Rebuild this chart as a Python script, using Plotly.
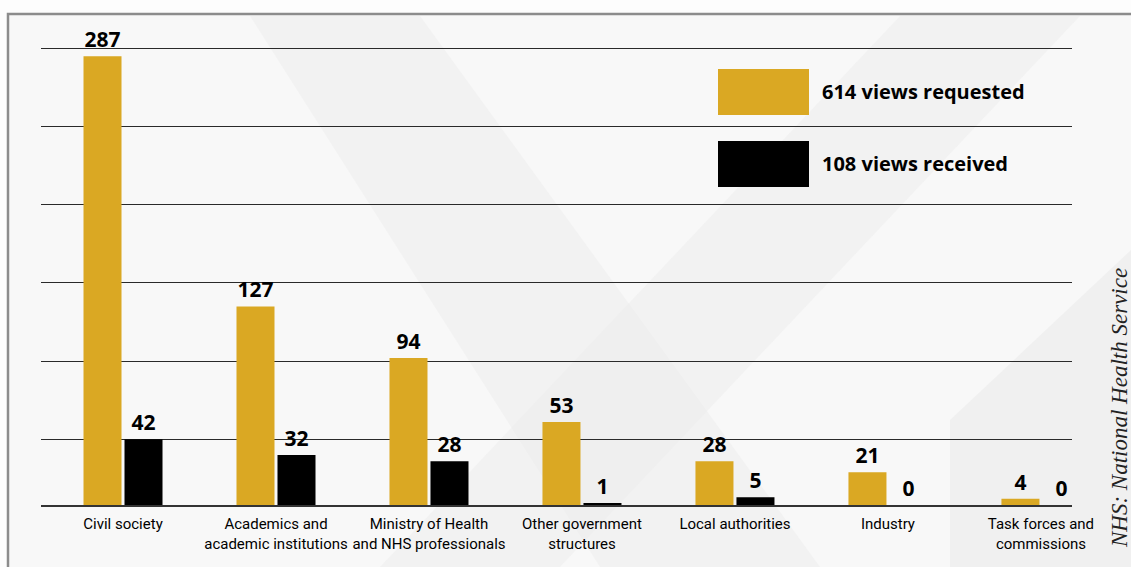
import plotly.graph_objects as go

categories = ["Civil society", "Academics and<br>academic institutions",
              "Ministry of Health<br>and NHS professionals", "Other government<br>structures",
              "Local authorities", "Industry", "Task forces and<br>commissions"]
requested = [287, 127, 94, 53, 28, 21, 4]
received = [42, 32, 28, 1, 5, 0, 0]
series_names = ["614 views requested", "108 views received"]
grid_vals = [42, 92, 142, 192, 242, 292]
footnote = "NHS: National Health Service"

GOLD = "#DAA823"
BLACK = "#000000"

W, H = 1131, 567
L, R, T, B = 41, 59, 14, 62
PW, PH = W - L - R, H - T - B

def px(x):
    return (x - L) / PW

def py(y):
    return (H - B - y) / PH

num_font = dict(family="Open Sans, DejaVu Sans, sans-serif", size=21, color="#000")

fig = go.Figure()
fig.add_trace(go.Bar(x=list(range(len(categories))), y=requested, name=series_names[0],
                     marker=dict(color=GOLD, line=dict(width=0)),
                     text=[f"<b>{v}</b>" for v in requested], textposition="outside",
                     textfont=num_font, cliponaxis=False, showlegend=False))
fig.add_trace(go.Bar(x=list(range(len(categories))), y=received, name=series_names[1],
                     marker=dict(color=BLACK, line=dict(width=0)),
                     text=[f"<b>{v}</b>" for v in received], textposition="outside",
                     textfont=num_font, cliponaxis=False, showlegend=False))

shapes = []
# background panel with frame
shapes.append(dict(type="rect", xref="paper", yref="paper", layer="below",
                   x0=px(8), x1=px(1140), y0=py(580), y1=py(14),
                   fillcolor="#f8f8f8", line=dict(color="#8c8c8c", width=2.5)))
# faint decorative bands
shapes.append(dict(type="path", xref="paper", yref="paper", layer="below",
                   path=f"M {px(250)} {py(16)} L {px(420)} {py(16)} L {px(820)} {py(567)} L {px(600)} {py(567)} Z",
                   fillcolor="#ececec", line=dict(width=0), opacity=0.45))
shapes.append(dict(type="path", xref="paper", yref="paper", layer="below",
                   path=f"M {px(900)} {py(16)} L {px(1080)} {py(16)} L {px(560)} {py(567)} L {px(380)} {py(567)} Z",
                   fillcolor="#ececec", line=dict(width=0), opacity=0.45))
shapes.append(dict(type="path", xref="paper", yref="paper", layer="below",
                   path=f"M {px(950)} {py(567)} L {px(950)} {py(420)} L {px(1131)} {py(250)} L {px(1131)} {py(567)} Z",
                   fillcolor="#e6e6e6", line=dict(width=0), opacity=0.45))

# legend swatches
sw_x0, sw_x1 = px(718), px(809)
shapes.append(dict(type="rect", xref="paper", yref="paper", x0=sw_x0, x1=sw_x1,
                   y0=py(115), y1=py(69), fillcolor=GOLD, line=dict(width=0)))
shapes.append(dict(type="rect", xref="paper", yref="paper", x0=sw_x0, x1=sw_x1,
                   y0=py(187), y1=py(141), fillcolor=BLACK, line=dict(width=0)))

annotations = [
    dict(xref="paper", yref="paper", x=px(820), y=py(91), text=f"<b>{series_names[0]}</b>",
         showarrow=False, xanchor="left", yanchor="middle",
         font=dict(family="Open Sans, DejaVu Sans, sans-serif", size=20, color="#000")),
    dict(xref="paper", yref="paper", x=px(820), y=py(163), text=f"<b>{series_names[1]}</b>",
         showarrow=False, xanchor="left", yanchor="middle",
         font=dict(family="Open Sans, DejaVu Sans, sans-serif", size=20, color="#000")),
    dict(xref="paper", yref="paper", x=px(1119), y=py(408), text=f"<i>{footnote}</i>",
         showarrow=False, textangle=-90, xanchor="center", yanchor="middle",
         font=dict(family="Liberation Serif", size=23, color="#222")),
]

fig.update_layout(
    width=W, height=H,
    margin=dict(l=L, r=R, t=T, b=B, pad=0, autoexpand=False),
    paper_bgcolor="#fdfdfd", plot_bgcolor="rgba(0,0,0,0)",
    barmode="group", bargap=0.464, bargroupgap=0.073,
    shapes=shapes, annotations=annotations,
    showlegend=False,
    xaxis=dict(range=[-0.536, 6.203], tickmode="array", automargin=False, tickangle=0,
               tickvals=list(range(len(categories))), ticktext=categories,
               showgrid=False, zeroline=False, showline=True, linecolor="#333", linewidth=2,
               ticks="outside", ticklen=4, tickcolor="rgba(0,0,0,0)",
               tickfont=dict(family="Roboto, sans-serif", size=15, color="#000")),
    yaxis=dict(range=[0, 314], tickmode="array", tickvals=grid_vals, showticklabels=False,
               automargin=False,
               showgrid=True, gridcolor="#2a2a2a", gridwidth=1, zeroline=False, showline=False,
               ticks=""),
    font=dict(family="Open Sans, sans-serif"),
)

fig.write_html("out.html")
